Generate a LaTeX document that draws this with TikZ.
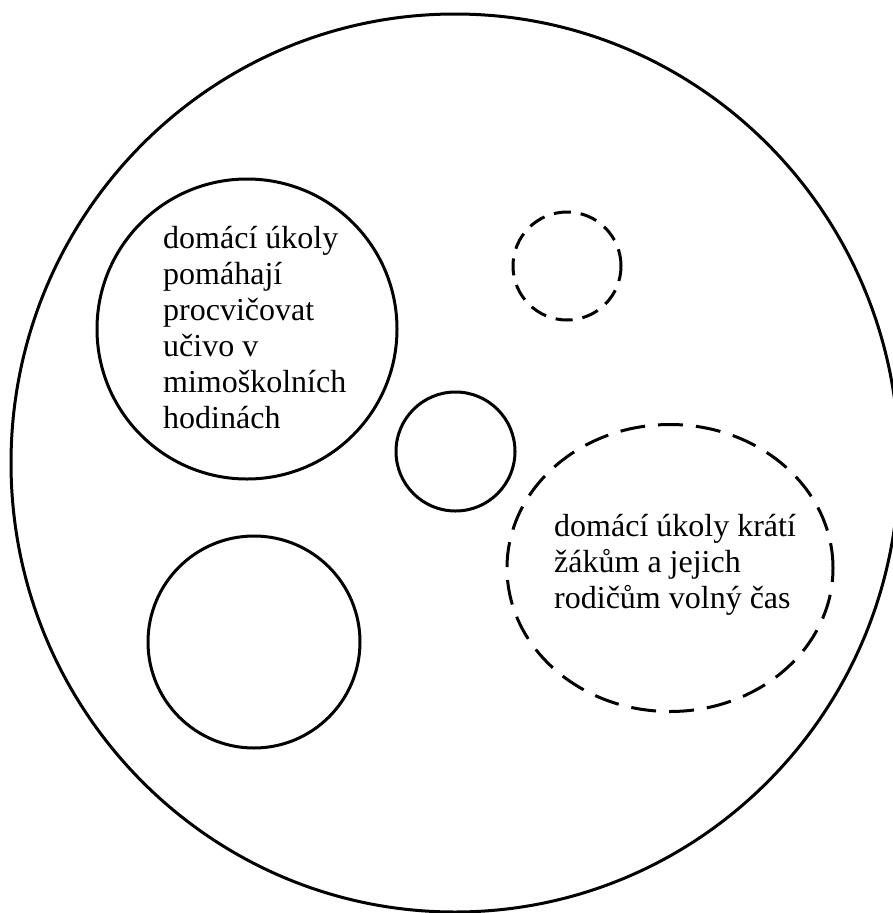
\documentclass[tikz,border=0pt]{standalone}
\usepackage{fontspec}
\setmainfont{Liberation Serif}
\usetikzlibrary{shapes.geometric}
\begin{document}
\begin{tikzpicture}[x=1pt,y=-1pt,
  ring/.style={draw, line width=3pt, inner sep=0pt},
  dashring/.style={ring, dash pattern=on 25pt off 13pt},
  smalldash/.style={ring, dash pattern=on 17pt off 10pt},
  txt/.style={font=\fontsize{32}{36}\selectfont, align=left, inner sep=0pt, anchor=base west}]
\useasboundingbox (0,0) rectangle (892,913);
\node[ring, ellipse, minimum width=888pt, minimum height=898pt] (outer) at (455,463) {};
\node[ring, circle, minimum size=300pt] (c1) at (247,329) {};
\node[smalldash, circle, minimum size=108pt] (c2) at (567,266) {};
\node[ring, circle, minimum size=119pt] (c3) at (455.5,451.5) {};
\node[ring, circle, minimum size=212pt] (c4) at (254,642) {};
\node[dashring, ellipse, minimum width=326pt, minimum height=287pt] (c5) at (670,568) {};
\node[txt] (t1) at (163,428) {domácí úkoly\\pomáhají\\procvičovat\\učivo v\\mimoškolních\\hodinách};
\node[txt] (t2) at (554,608) {domácí úkoly krátí\\žákům a jejich\\rodičům volný čas};
\end{tikzpicture}
\end{document}
